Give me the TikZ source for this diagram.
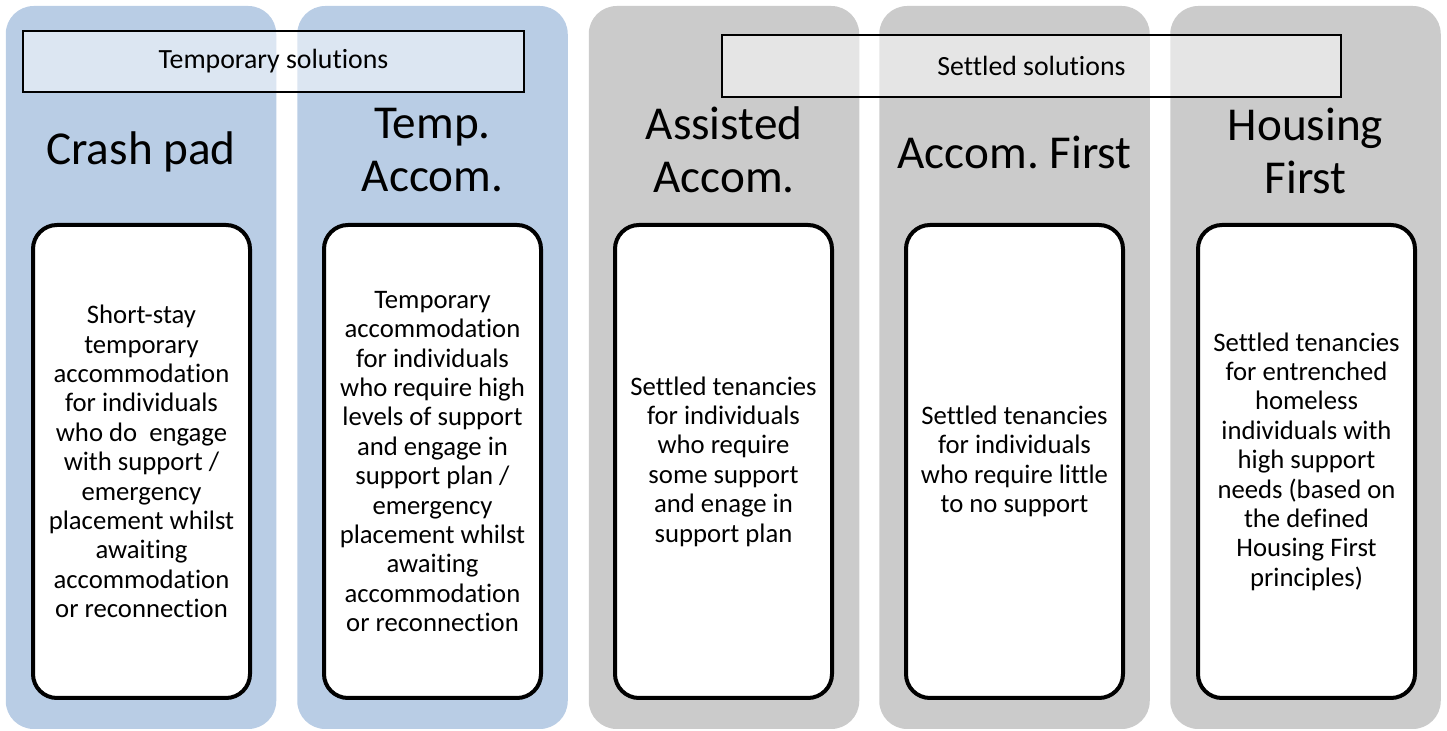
\documentclass[tikz,border=0pt]{standalone}
\usepackage{fontspec}
\setmainfont{Carlito}[Ligatures=NoCommon]
\frenchspacing
\definecolor{colblue}{HTML}{B9CDE5}
\definecolor{colgrey}{HTML}{CBCBCB}
\begin{document}
\begin{tikzpicture}[x=0.5pt,y=-0.5pt,
  colbox/.style={draw=none,rounded corners=14pt,minimum width=135.25pt,minimum height=361.5pt,inner sep=0pt,outer sep=0pt},
  innerbox/.style={draw=black,line width=2pt,fill=white,rounded corners=12pt,minimum width=108.5pt,minimum height=236.5pt,inner sep=0pt},
  head/.style={align=center,font=\fontsize{23.6pt}{26.5pt}\selectfont,inner sep=0pt},
  bodytext/.style={align=center,font=\fontsize{13.35pt}{14.7pt}\selectfont,inner sep=0pt},
  labbox/.style={draw=black,line width=0.75pt,fill=white,fill opacity=0.5,text opacity=1,inner sep=0pt,font=\fontsize{13.9pt}{16pt}\selectfont}
]
\useasboundingbox (0,0) rectangle (1447,731);
% columns
\node[colbox,fill=colblue] (c1) at (141,367.5) {};
\node[colbox,fill=colblue] (c2) at (432.5,367.5) {};
\node[colbox,fill=colgrey] (c3) at (724,367.5) {};
\node[colbox,fill=colgrey] (c4) at (1014.5,367.5) {};
\node[colbox,fill=colgrey] (c5) at (1305.5,367.5) {};
% group labels
\node[labbox,minimum width=250.5pt,minimum height=30.5pt] (temp) at (273.5,61.5) {Temporary solutions};
\node[labbox,minimum width=309.5pt,minimum height=31pt] (settled) at (1031.5,66) {Settled solutions};
% headings
\node[head] (h1) at (141,152) {Crash pad};
\node[head] (h2) at (432.5,150.5) {Temp.\\Accom.};
\node[head] (h3) at (724,150) {Assisted\\Accom.};
\node[head] (h4) at (1014.5,152) {Accom. First};
\node[head] (h5) at (1305.5,151) {Housing\\First};
% inner boxes
\node[innerbox] (b1) at (141.5,461.5) {};
\node[innerbox] (b2) at (432.5,461.5) {};
\node[innerbox] (b3) at (723.5,461.5) {};
\node[innerbox] (b4) at (1014.5,461.5) {};
\node[innerbox] (b5) at (1306.5,461.5) {};
% body texts
\node[bodytext] (t1) at (b1.center) {Short-stay\\temporary\\accommodation\\for individuals\\who do\ \ engage\\with support /\\emergency\\placement whilst\\awaiting\\accommodation\\or reconnection};
\node[bodytext] (t2) at (b2.center) {Temporary\\accommodation\\for individuals\\who require high\\levels of support\\and engage in\\support plan /\\emergency\\placement whilst\\awaiting\\accommodation\\or reconnection};
\node[bodytext] (t3) at (b3.center) {Settled tenancies\\for individuals\\who require\\some support\\and enage in\\support plan};
\node[bodytext] (t4) at (b4.center) {Settled tenancies\\for individuals\\who require little\\to no support};
\node[bodytext] (t5) at (b5.center) {Settled tenancies\\for entrenched\\homeless\\individuals with\\high support\\needs (based on\\the defined\\Housing First\\principles)};
\end{tikzpicture}
\end{document}
